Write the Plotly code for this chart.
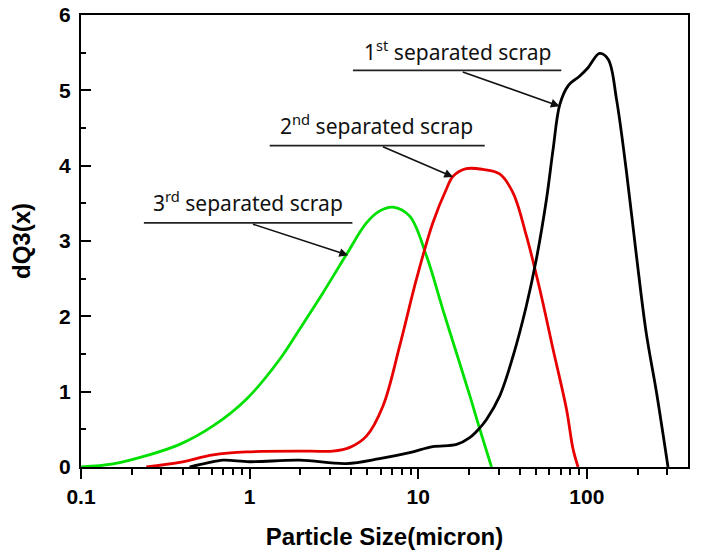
import plotly.graph_objects as go
import math

# ---- data ----
green_x = [0.1, 0.155, 0.244, 0.385, 0.607, 0.957, 1.51, 1.98, 2.72, 3.75, 4.93, 5.92, 7.09, 8.9, 11.2, 14.0, 17.6, 20.2, 23.2, 27.2]
green_y = [0.0, 0.04, 0.15, 0.30, 0.545, 0.90, 1.43, 1.83, 2.31, 2.82, 3.24, 3.40, 3.45, 3.33, 2.80, 2.09, 1.38, 0.95, 0.50, 0.0]

red_x = [0.244, 0.385, 0.607, 0.957, 2.27, 3.11, 3.93, 4.93, 6.18, 7.77, 9.75, 12.2, 14.7, 16.1, 19.3, 24.2, 30.4, 36.5, 43.8, 52.6, 63.1, 75.7, 82.8, 88.7]
red_y = [0.0, 0.06, 0.16, 0.20, 0.21, 0.21, 0.26, 0.41, 0.81, 1.61, 2.49, 3.24, 3.69, 3.86, 3.96, 3.95, 3.89, 3.64, 3.07, 2.36, 1.56, 0.77, 0.24, 0.0]

black_x = [0.44, 0.555, 0.695, 1.0, 1.98, 3.75, 5.9, 8.9, 12.2, 16.9, 20.2, 23.2, 25.4, 30.4, 36.5, 43.8, 50.2, 57.6, 63.1, 69.1, 77.4, 90.8, 101.6, 119, 134, 150, 172, 197, 225, 259, 303]
black_y = [0.0, 0.05, 0.09, 0.07, 0.09, 0.045, 0.11, 0.19, 0.27, 0.30, 0.39, 0.52, 0.63, 0.94, 1.47, 2.14, 2.76, 3.55, 4.22, 4.81, 5.06, 5.19, 5.30, 5.49, 5.41, 4.88, 3.91, 2.80, 1.78, 0.99, 0.0]

x_tick_vals = [0.1, 1, 10, 100]
x_tick_text = ["0.1", "1", "10", "100"]
x_minor_vals = [0.2, 0.3, 0.4, 0.5, 0.6, 0.7, 0.8, 0.9,
                2, 3, 4, 5, 6, 7, 8, 9,
                20, 30, 40, 50, 60, 70, 80, 90,
                200, 300]
y_tick_vals = [0, 1, 2, 3, 4, 5, 6]

label_texts = ["1<sup>st</sup> separated scrap", "2<sup>nd</sup> separated scrap", "3<sup>rd</sup> separated scrap"]
# label text centre (x data value, y), underline (x0, x1, y), arrow tail (x, y) -> head (x, y)
label_pos_x = [17.1, 5.68, 0.975]
label_pos_y = [5.53, 4.55, 3.53]
underline_x0 = [4.10, 1.315, 0.236]
underline_x1 = [70.6, 24.8, 4.07]
underline_y = [5.265, 4.267, 3.24]
arrow_tail_x = [18.0, 6.05, 1.025]
arrow_tail_y = [5.25, 4.26, 3.23]
arrow_head_x = [69.0, 16.1, 3.84]
arrow_head_y = [4.79, 3.85, 2.81]

fig = go.Figure()
for xs, ys, col in [(green_x, green_y, "#00e000"), (red_x, red_y, "#e80000"), (black_x, black_y, "#000000")]:
    fig.add_trace(go.Scatter(x=xs, y=ys, mode="lines",
                             line=dict(color=col, width=2.8, shape="spline", smoothing=1.0),
                             showlegend=False, hoverinfo="skip"))

ann = []
shapes = []
for i in range(3):
    ann.append(dict(x=math.log10(label_pos_x[i]), y=label_pos_y[i], xref="x", yref="y",
                    text=label_texts[i], showarrow=False, xanchor="center", yanchor="middle",
                    font=dict(family="Noto Sans, Open Sans, sans-serif", size=21, color="#111")))
    ann.append(dict(x=math.log10(arrow_head_x[i]), y=arrow_head_y[i], xref="x", yref="y",
                    ax=math.log10(arrow_tail_x[i]), ay=arrow_tail_y[i], axref="x", ayref="y",
                    text="", showarrow=True, arrowhead=2, arrowsize=1.1, arrowwidth=1.6,
                    arrowcolor="#111"))
    shapes.append(dict(type="line", xref="x", yref="y",
                       x0=underline_x0[i], x1=underline_x1[i], y0=underline_y[i], y1=underline_y[i],
                       line=dict(color="#222", width=1.8)))

tick_font = dict(family="Arial, Liberation Sans, sans-serif", size=21, color="black", weight="bold")
title_font = dict(family="Arial, Liberation Sans, sans-serif", size=24, color="black", weight="bold")

# the page adds an 8px body margin, so the figure is sized to fit inside the window
fig.update_layout(
    width=701, height=549,
    margin=dict(l=73, r=21, t=7, b=90),
    paper_bgcolor="white", plot_bgcolor="white",
    annotations=ann, shapes=shapes,
    xaxis=dict(type="log", range=[-1, 2.6], showgrid=False, zeroline=False, automargin=False,
               showline=True, linecolor="black", linewidth=2, mirror=True,
               ticks="outside", ticklen=10, tickwidth=1.5, tickcolor="black",
               tickvals=x_tick_vals, ticktext=x_tick_text, tickfont=tick_font,
               ticklabeloverflow="allow",
               minor=dict(ticks="outside", ticklen=6, tickwidth=1.5, tickcolor="black",
                          tickvals=x_minor_vals, showgrid=False),
               title=dict(text="Particle Size(micron)", font=title_font, standoff=21)),
    yaxis=dict(range=[0, 6], showgrid=False, zeroline=False, automargin=False,
               showline=True, linecolor="black", linewidth=2, mirror=True,
               ticks="inside", ticklen=10, tickwidth=1.5, tickcolor="black",
               tickvals=y_tick_vals, tickfont=tick_font, ticklabelstandoff=4,
               ticklabeloverflow="allow",
               minor=dict(ticks="inside", ticklen=5, tickwidth=1.5, tickcolor="black",
                          dtick=0.5, showgrid=False),
               title=dict(text="dQ3(x)", font=title_font, standoff=26)),
)

fig.write_html("out.html")
